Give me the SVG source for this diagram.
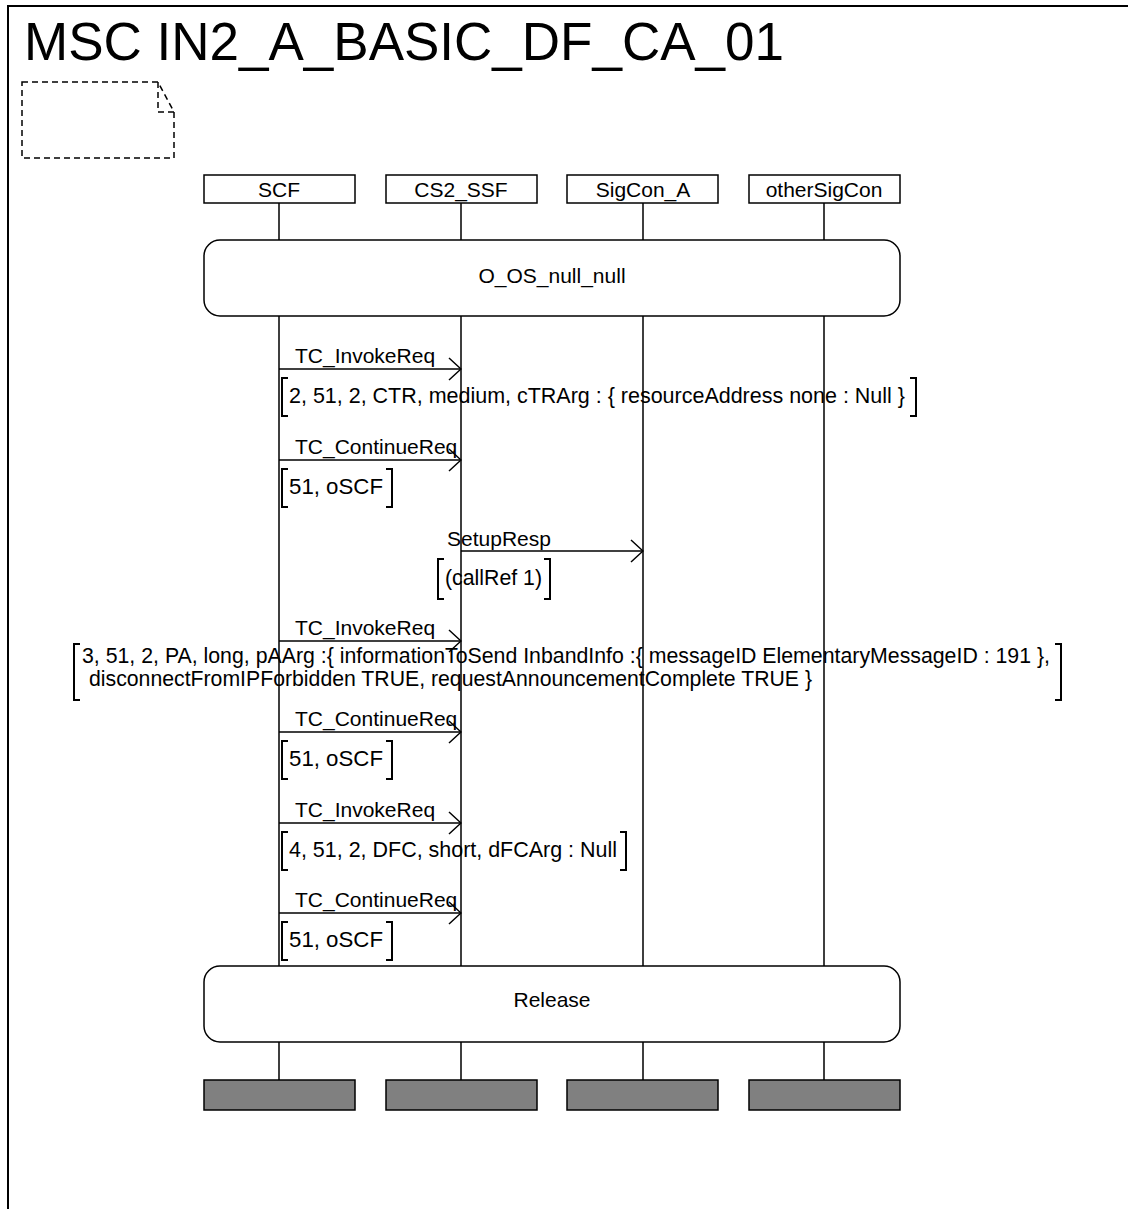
<svg xmlns="http://www.w3.org/2000/svg" width="1128" height="1209" viewBox="0 0 1128 1209">
<defs>
<style>
text{font-family:"Liberation Sans",Arial,sans-serif;fill:#000}
.t{font-size:21px}
.p{font-size:22px}
.c{text-anchor:middle}
.ln{stroke:#000;stroke-width:1.5;fill:none}
.box{fill:#fff;stroke:#000;stroke-width:1.5}
.end{fill:#808080;stroke:#000;stroke-width:1.5}
.br{stroke:#000;stroke-width:2;fill:none}
.msg{stroke:#000;stroke-width:1.5;fill:none;marker-end:url(#ah)}
</style>
<marker id="ah" viewBox="0 0 14 24" refX="13" refY="12" markerWidth="14" markerHeight="24" markerUnits="userSpaceOnUse" orient="auto">
<polyline points="1,1 13,12 1,23" fill="none" stroke="#000" stroke-width="1.5"/>
</marker>
</defs>
<rect width="1128" height="1209" fill="#fff"/>
<rect x="8" y="6" width="1140" height="1230" fill="none" stroke="#000" stroke-width="2"/>
<text x="24" y="60" font-size="53">MSC IN2_A_BASIC_DF_CA_01</text>
<g id="comment">
<path d="M22,82 H158 L174,112 V158 H22 Z M158,82 V112 H174" fill="none" stroke="#000" stroke-width="1.5" stroke-dasharray="6,4"/>
</g>
<g id="lifelines">
<path class="ln" d="M279,203 V240 M461,203 V240 M643,203 V240 M824,203 V240 M279,316 V966 M461,316 V966 M643,316 V966 M824,316 V966 M279,1042 V1080 M461,1042 V1080 M643,1042 V1080 M824,1042 V1080"/>
</g>
<g id="SCF"><rect class="box" x="204" y="175" width="151" height="28"/><text class="t c" x="279" y="197">SCF</text><rect class="end" x="204" y="1080" width="151" height="30"/></g>
<g id="CS2_SSF"><rect class="box" x="386" y="175" width="151" height="28"/><text class="t c" x="461" y="197">CS2_SSF</text><rect class="end" x="386" y="1080" width="151" height="30"/></g>
<g id="SigCon_A"><rect class="box" x="567" y="175" width="151" height="28"/><text class="t c" x="643" y="197">SigCon_A</text><rect class="end" x="567" y="1080" width="151" height="30"/></g>
<g id="otherSigCon"><rect class="box" x="749" y="175" width="151" height="28"/><text class="t c" x="824" y="197">otherSigCon</text><rect class="end" x="749" y="1080" width="151" height="30"/></g>
<g id="ref_O_OS_null_null"><rect class="box" x="204" y="240" width="696" height="76" rx="16"/><text class="t c" x="552" y="283">O_OS_null_null</text></g>
<g id="ref_Release"><rect class="box" x="204" y="966" width="696" height="76" rx="16"/><text class="t c" x="552" y="1007">Release</text></g>
<g id="connectors">
<line class="msg" x1="279" y1="369" x2="461" y2="369"/>
<line class="msg" x1="279" y1="460" x2="461" y2="460"/>
<line class="msg" x1="461" y1="551" x2="643" y2="551"/>
<line class="msg" x1="279" y1="641" x2="461" y2="641"/>
<line class="msg" x1="279" y1="732" x2="461" y2="732"/>
<line class="msg" x1="279" y1="823" x2="461" y2="823"/>
<line class="msg" x1="279" y1="913" x2="461" y2="913"/>
</g>
<g id="labels">
<text class="t" x="295" y="363">TC_InvokeReq</text>
<polyline class="br" points="288,378 282,378 282,416 288,416"/>
<text class="p" x="289" y="403" textLength="616" lengthAdjust="spacingAndGlyphs">2, 51, 2, CTR, medium, cTRArg : { resourceAddress none : Null }</text>
<polyline class="br" points="910,378 916,378 916,416 910,416"/>

<text class="t" x="295" y="454">TC_ContinueReq</text>
<polyline class="br" points="288,469 282,469 282,507 288,507"/>
<text class="p" x="289" y="494" textLength="94" lengthAdjust="spacingAndGlyphs">51, oSCF</text>
<polyline class="br" points="386,469 392,469 392,507 386,507"/>

<text class="t" x="447" y="546">SetupResp</text>
<polyline class="br" points="444,559 438,559 438,599 444,599"/>
<text class="p" x="445" y="585" textLength="97" lengthAdjust="spacingAndGlyphs">(callRef 1)</text>
<polyline class="br" points="544,559 550,559 550,599 544,599"/>

<text class="t" x="295" y="635">TC_InvokeReq</text>
<polyline class="br" points="80,644 74,644 74,700 80,700"/>
<text class="p" x="82" y="663" textLength="968" lengthAdjust="spacingAndGlyphs">3, 51, 2, PA, long, pAArg :{ informationToSend InbandInfo :{ messageID ElementaryMessageID : 191 },</text>
<text class="p" x="89" y="686" textLength="723" lengthAdjust="spacingAndGlyphs">disconnectFromIPForbidden TRUE, requestAnnouncementComplete TRUE }</text>
<polyline class="br" points="1055,644 1061,644 1061,700 1055,700"/>

<text class="t" x="295" y="726">TC_ContinueReq</text>
<polyline class="br" points="288,741 282,741 282,779 288,779"/>
<text class="p" x="289" y="766" textLength="94" lengthAdjust="spacingAndGlyphs">51, oSCF</text>
<polyline class="br" points="386,741 392,741 392,779 386,779"/>

<text class="t" x="295" y="817">TC_InvokeReq</text>
<polyline class="br" points="288,832 282,832 282,870 288,870"/>
<text class="p" x="289" y="857" textLength="328" lengthAdjust="spacingAndGlyphs">4, 51, 2, DFC, short, dFCArg : Null</text>
<polyline class="br" points="620,832 626,832 626,870 620,870"/>

<text class="t" x="295" y="907">TC_ContinueReq</text>
<polyline class="br" points="288,922 282,922 282,960 288,960"/>
<text class="p" x="289" y="947" textLength="94" lengthAdjust="spacingAndGlyphs">51, oSCF</text>
<polyline class="br" points="386,922 392,922 392,960 386,960"/>
</g>
</svg>
